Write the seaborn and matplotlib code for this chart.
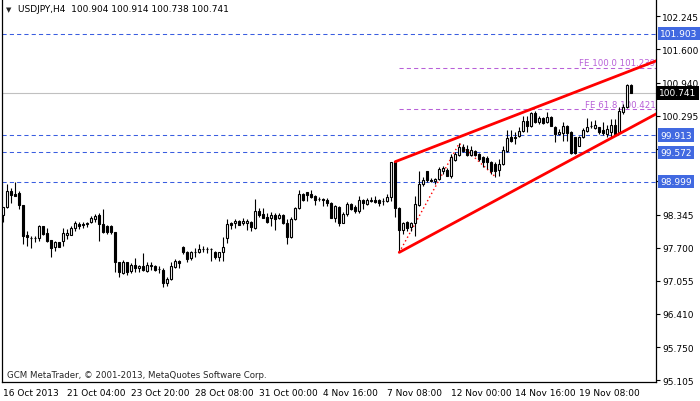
import numpy as np
import pandas as pd
import matplotlib
matplotlib.use('Agg')
import matplotlib.pyplot as plt
import seaborn as sns

# header / quote
symbol = 'USDJPY,H4'
last_quote = [100.904, 100.914, 100.738, 100.741]
copyright_txt = 'GCM MetaTrader, \u00a9 2001-2013, MetaQuotes Software Corp.'

# H4 candles
opens = [98.351, 98.495, 98.822, 98.757, 98.783, 98.541, 97.952, 97.893, 97.900, 97.886,
         98.122, 97.984, 97.853, 97.710, 97.808, 97.840, 97.952, 97.958, 98.083, 98.174,
         98.161, 98.168, 98.200, 98.266, 98.344, 98.161, 98.135, 98.122, 98.004, 97.415,
         97.206, 97.415, 97.251, 97.363, 97.297, 97.350, 97.251, 97.350, 97.350, 97.284,
         97.271, 97.003, 97.088, 97.330, 97.441, 97.723, 97.611, 97.494, 97.611, 97.611,
         97.677, 97.683, 97.677, 97.624, 97.513, 97.611, 97.886, 98.187, 98.181, 98.220,
         98.181, 98.187, 98.207, 98.089, 98.416, 98.364, 98.312, 98.285, 98.344, 98.279,
         98.344, 98.181, 97.919, 98.266, 98.475, 98.757, 98.789, 98.757, 98.711, 98.658,
         98.658, 98.639, 98.580, 98.292, 98.508, 98.194, 98.364, 98.560, 98.495, 98.423,
         98.639, 98.567, 98.639, 98.645, 98.639, 98.626, 98.619, 98.691, 99.378, 98.475,
         98.056, 98.200, 98.102, 98.181, 98.547, 98.953, 99.202, 99.031, 99.013, 99.052,
         99.215, 99.235, 99.104, 99.431, 99.523, 99.673, 99.641, 99.523, 99.608, 99.543,
         99.477, 99.458, 99.379, 99.346, 99.228, 99.346, 99.608, 99.870, 99.870, 99.889,
         99.988, 100.184, 100.086, 100.341, 100.164, 100.243, 100.177, 100.262, 100.079, 99.935,
         99.948, 100.099, 99.981, 99.870, 99.706, 99.870, 99.988, 100.099, 100.053, 100.066,
         100.020, 99.935, 99.981, 100.118, 99.981, 100.361, 100.459, 100.904]
highs = [98.495, 98.953, 98.868, 98.986, 98.815, 98.545, 98.037, 97.925, 97.925, 98.148,
         98.135, 98.083, 97.860, 97.827, 97.821, 98.083, 98.069, 98.135, 98.220, 98.213,
         98.213, 98.213, 98.331, 98.364, 98.377, 98.462, 98.148, 98.148, 98.017, 97.428,
         97.467, 97.428, 97.395, 97.494, 97.369, 97.598, 97.415, 97.415, 97.369, 97.350,
         97.297, 97.121, 97.415, 97.480, 97.461, 97.742, 97.638, 97.644, 97.690, 97.775,
         97.729, 97.710, 97.703, 97.644, 97.624, 97.906, 98.266, 98.213, 98.266, 98.246,
         98.285, 98.266, 98.233, 98.658, 98.475, 98.482, 98.377, 98.397, 98.377, 98.377,
         98.357, 98.266, 98.299, 98.508, 98.835, 98.776, 98.802, 98.835, 98.737, 98.704,
         98.671, 98.671, 98.593, 98.541, 98.521, 98.397, 98.606, 98.580, 98.541, 98.724,
         98.658, 98.671, 98.704, 98.724, 98.658, 98.671, 98.757, 99.391, 99.391, 98.495,
         98.200, 98.220, 98.200, 98.724, 99.215, 99.097, 99.215, 99.064, 99.078, 99.281,
         99.300, 99.261, 99.543, 99.588, 99.752, 99.739, 99.726, 99.706, 99.621, 99.562,
         99.510, 99.497, 99.412, 99.379, 99.444, 99.706, 100.014, 100.014, 99.968, 100.066,
         100.295, 100.295, 100.361, 100.393, 100.295, 100.262, 100.374, 100.282, 100.099, 100.033,
         100.177, 100.112, 100.001, 99.883, 99.889, 100.046, 100.243, 100.197, 100.217, 100.079,
         100.164, 100.112, 100.230, 100.230, 100.459, 100.524, 100.917, 100.914]
lows = [98.213, 98.475, 98.573, 98.711, 98.462, 97.775, 97.742, 97.696, 97.808, 97.834,
        97.952, 97.821, 97.526, 97.631, 97.720, 97.742, 97.873, 97.952, 98.030, 98.069,
        98.083, 98.102, 98.187, 98.213, 97.840, 97.991, 97.965, 97.971, 97.232, 97.134,
        97.186, 97.166, 97.199, 97.232, 97.232, 97.245, 97.232, 97.265, 97.245, 97.199,
        96.924, 96.957, 97.075, 97.297, 97.304, 97.572, 97.415, 97.461, 97.513, 97.592,
        97.611, 97.598, 97.435, 97.480, 97.448, 97.448, 97.795, 98.069, 98.083, 98.148,
        98.148, 98.056, 98.037, 98.069, 98.299, 98.279, 98.181, 98.135, 98.050, 98.266,
        98.168, 97.775, 97.886, 98.246, 98.462, 98.626, 98.626, 98.678, 98.547, 98.613,
        98.514, 98.514, 98.279, 98.200, 98.135, 98.181, 98.331, 98.449, 98.377, 98.384,
        98.462, 98.541, 98.593, 98.580, 98.527, 98.541, 98.593, 98.626, 98.312, 97.611,
        97.971, 98.037, 98.037, 97.939, 98.528, 98.920, 98.986, 98.986, 98.954, 99.039,
        99.150, 99.104, 99.065, 99.412, 99.510, 99.588, 99.497, 99.497, 99.497, 99.412,
        99.281, 99.248, 99.150, 99.098, 99.117, 99.333, 99.588, 99.772, 99.739, 99.870,
        99.968, 99.981, 100.066, 100.151, 100.132, 100.132, 100.151, 100.086, 99.772, 99.916,
        99.804, 99.804, 99.543, 99.543, 99.693, 99.850, 99.968, 100.046, 100.033, 99.935,
        99.916, 99.870, 99.850, 99.916, 99.955, 100.328, 100.439, 100.738]
closes = [98.495, 98.809, 98.743, 98.724, 98.541, 97.939, 97.906, 97.900, 97.893, 98.122,
          97.971, 97.840, 97.696, 97.808, 97.723, 97.991, 97.991, 98.083, 98.187, 98.135,
          98.155, 98.178, 98.285, 98.331, 98.168, 98.017, 98.017, 98.004, 97.415, 97.219,
          97.415, 97.232, 97.369, 97.297, 97.337, 97.265, 97.363, 97.356, 97.265, 97.290,
          97.003, 97.088, 97.337, 97.441, 97.395, 97.611, 97.480, 97.624, 97.618, 97.677,
          97.683, 97.677, 97.670, 97.513, 97.611, 97.710, 98.168, 98.155, 98.233, 98.155,
          98.220, 98.233, 98.115, 98.416, 98.344, 98.285, 98.207, 98.344, 98.266, 98.344,
          98.181, 97.919, 98.266, 98.482, 98.757, 98.645, 98.737, 98.704, 98.639, 98.652,
          98.632, 98.573, 98.292, 98.514, 98.194, 98.364, 98.554, 98.462, 98.429, 98.639,
          98.573, 98.639, 98.626, 98.600, 98.580, 98.619, 98.704, 99.378, 98.475, 98.056,
          98.181, 98.089, 98.181, 98.554, 98.953, 99.031, 99.025, 99.005, 99.052, 99.248,
          99.261, 99.117, 99.477, 99.543, 99.673, 99.608, 99.523, 99.621, 99.523, 99.444,
          99.392, 99.379, 99.215, 99.215, 99.346, 99.621, 99.850, 99.804, 99.863, 99.988,
          100.184, 100.086, 100.341, 100.177, 100.243, 100.145, 100.262, 100.099, 99.935, 99.981,
          100.099, 99.948, 99.562, 99.562, 99.870, 100.014, 100.079, 100.092, 100.118, 99.968,
          99.955, 100.033, 100.118, 99.935, 100.393, 100.459, 100.904, 100.741]

# x axis labels (one every 16 bars)
date_labels = ['16 Oct 2013', '21 Oct 04:00', '23 Oct 20:00', '28 Oct 08:00', '31 Oct 00:00',
               '4 Nov 16:00', '7 Nov 08:00', '12 Nov 00:00', '14 Nov 16:00', '19 Nov 08:00']
date_bars = [0, 16, 32, 48, 64, 80, 96, 112, 128, 144]

# price scale (99.005 sits under the 98.999 box, so its text is not shown)
price_ticks = [102.245, 101.600, 100.940, 100.295, 99.650, 99.005,
               98.345, 97.700, 97.055, 96.410, 95.750, 95.105]
hidden_ticks = [99.005]

# horizontal lines
blue_levels = [101.903, 99.913, 99.572, 98.999]
bid_price = 100.741

# channel (bar index, price)
upper_bars = [98, 164]
upper_prices = [99.391, 101.394]
lower_bars = [99, 164]
lower_prices = [97.611, 100.361]

# fibo expansion
fe_bars = [99, 114, 123]
fe_prices = [97.611, 99.752, 99.098]
fe_levels = [100.421, 101.239]
fe_names = ['FE 61.8', 'FE 100.0']

df = pd.DataFrame({'open': opens, 'high': highs, 'low': lows, 'close': closes})
df['bar'] = np.arange(len(df))
df['bull'] = df['close'] >= df['open']
df['body_lo'] = df[['open', 'close']].min(axis=1)
df['body_h'] = (df['close'] - df['open']).abs()

sns.set_style('white')
plt.rcParams['font.family'] = ['DejaVu Sans']

fig = plt.figure(figsize=(7, 4.02), dpi=100)
ax = fig.add_axes([2 / 700, 19 / 402, 654 / 700, 383 / 402])

# horizontal levels
ax.axhline(bid_price, color='#c0c0c0', lw=0.8, zorder=1)
for lvl in blue_levels:
    ax.axhline(lvl, color='#3a5ee0', lw=0.75, ls=(0, (4, 3)), zorder=1)
for lvl, name in zip(fe_levels, fe_names):
    ax.plot([fe_bars[0], 170], [lvl, lvl], color='#b860d8', lw=0.75, ls=(0, (4, 3)), zorder=1)
    ax.text(163.1, lvl + 0.01, f'{name} {lvl:.3f}', color='#b860d8', fontsize=6.2,
            ha='right', va='bottom', zorder=2)

# fibo points
ax.plot(fe_bars, fe_prices, color='red', lw=1, ls=(0, (1, 2)), zorder=2)

# candles
ax.vlines(df['bar'], df['low'], df['high'], color='black', lw=0.8, zorder=3)
bull = df[df['bull']]
bear = df[~df['bull']]
ax.bar(bull['bar'], bull['body_h'], bottom=bull['body_lo'], width=0.55,
       color='white', edgecolor='black', lw=0.8, zorder=4)
ax.bar(bear['bar'], bear['body_h'], bottom=bear['body_lo'], width=0.55,
       color='black', edgecolor='black', lw=0.8, zorder=4)

# channel
sns.lineplot(x=upper_bars, y=upper_prices, ax=ax, color='red', lw=2.0, zorder=6)
sns.lineplot(x=lower_bars, y=lower_prices, ax=ax, color='red', lw=2.0, zorder=6)

ax.set_xlim(-0.33, 163.2)
ax.set_ylim(95.066, 102.585)
ax.set_xlabel('')
ax.set_ylabel('')

ax.yaxis.tick_right()
ax.set_yticks(price_ticks)
ax.set_yticklabels(['' if v in hidden_ticks else f'{v:.3f}' for v in price_ticks])
ax.set_xticks(date_bars)
ax.set_xticklabels(date_labels, ha='left')
ax.tick_params(axis='both', which='both', length=3, width=0.8, color='black',
               labelsize=6.5, pad=1.5, direction='out', labelcolor='black')

for side in ['left', 'bottom', 'right']:
    ax.spines[side].set_color('black')
    ax.spines[side].set_linewidth(0.9)
ax.spines['top'].set_visible(False)

# price boxes on the right scale
for lvl in blue_levels:
    ax.annotate(f'{lvl:.3f}', xy=(1, lvl), xycoords=('axes fraction', 'data'),
                xytext=(3, 0), textcoords='offset points', va='center', ha='left',
                fontsize=6.5, color='white', annotation_clip=False, zorder=8,
                bbox=dict(boxstyle='square,pad=0.25', fc='#4169e1', ec='none'))
ax.annotate(f'{bid_price:.3f}', xy=(1, bid_price), xycoords=('axes fraction', 'data'),
            xytext=(2, 0), textcoords='offset points', va='center', ha='left',
            fontsize=6.5, color='white', annotation_clip=False, zorder=8,
            bbox=dict(boxstyle='square,pad=0.3', fc='black', ec='none'))

# header and footer text
fig.text(6 / 700, 1 - 10 / 402, '\u25bc', fontsize=5, va='center', ha='left')
fig.text(18 / 700, 1 - 10 / 402,
         symbol + '  ' + ' '.join(f'{v:.3f}' for v in last_quote),
         fontsize=6.5, va='center', ha='left', color='black')
fig.text(7 / 700, 1 - 376 / 402, copyright_txt, fontsize=6.2, va='center', ha='left')

fig.savefig('out.png', dpi=100)
